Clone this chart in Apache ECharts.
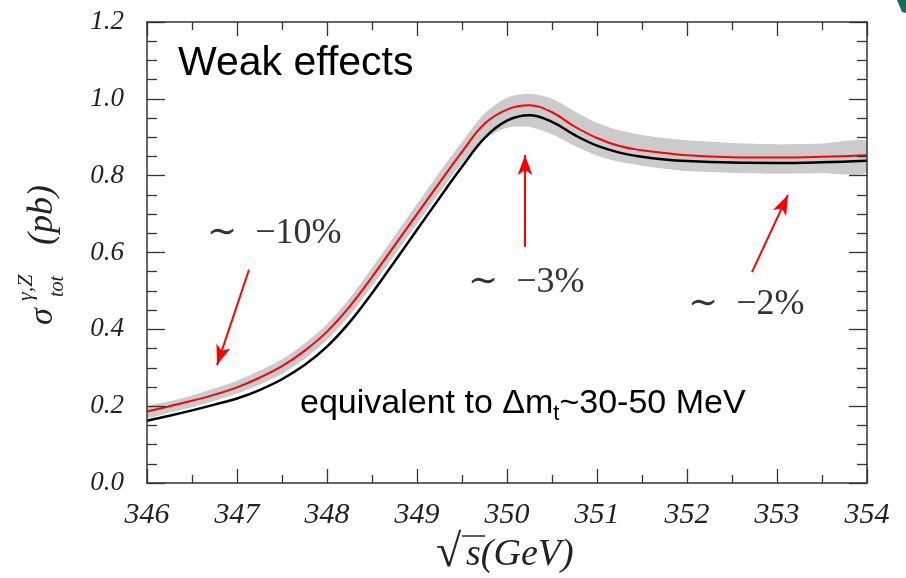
<!DOCTYPE html>
<html><head><meta charset="utf-8">
<script src="https://cdn.jsdelivr.net/npm/echarts@6/dist/echarts.min.js"></script>
<style>html,body{margin:0;padding:0;background:#fff}#c{width:906px;height:578px}</style>
</head><body><div id="c"></div>
<script>
// sqrt(s) in GeV
const energy   = [346, 346.25, 346.5, 346.75, 347, 347.25, 347.5, 347.75, 348, 348.25, 348.5, 348.75, 349, 349.25, 349.5, 349.75, 350, 350.25, 350.5, 350.75, 351, 351.25, 351.5, 351.75, 352, 352.5, 353, 353.5, 354];
// red curve (without weak effects)
const sigmaRed = [0.186, 0.200, 0.214, 0.230, 0.249, 0.274, 0.304, 0.344, 0.394, 0.459, 0.536, 0.618, 0.700, 0.782, 0.862, 0.935, 0.972, 0.983, 0.965, 0.928, 0.898, 0.877, 0.866, 0.859, 0.853, 0.848, 0.847, 0.849, 0.853];
// black curve (with weak effects)
const sigmaBlack = [0.162, 0.175, 0.189, 0.204, 0.220, 0.242, 0.270, 0.307, 0.355, 0.418, 0.494, 0.576, 0.659, 0.742, 0.823, 0.898, 0.943, 0.957, 0.940, 0.906, 0.878, 0.860, 0.849, 0.842, 0.838, 0.834, 0.833, 0.835, 0.839];
// grey uncertainty band
const bandLow  = [0.170, 0.183, 0.197, 0.214, 0.233, 0.256, 0.284, 0.323, 0.372, 0.436, 0.512, 0.593, 0.674, 0.755, 0.832, 0.895, 0.925, 0.927, 0.908, 0.878, 0.852, 0.836, 0.826, 0.818, 0.812, 0.807, 0.805, 0.806, 0.808];
const bandHigh = [0.198, 0.213, 0.228, 0.246, 0.266, 0.292, 0.322, 0.363, 0.414, 0.480, 0.560, 0.643, 0.726, 0.809, 0.888, 0.962, 1.003, 1.013, 1.000, 0.968, 0.938, 0.918, 0.906, 0.898, 0.892, 0.885, 0.882, 0.884, 0.889];
// annotation arrows: [fromX, fromY, toX, toY] in data units
const arrowTen   = [347.133, 0.555, 346.778, 0.307];
const arrowThree = [350.2, 0.615, 350.2, 0.854];
const arrowTwo   = [352.722, 0.549, 353.122, 0.750];

const pairs = (ys) => energy.map((x, i) => [x, ys[i]]);
const arrowPair = (a) => [{coord: [a[0], a[1]]}, {coord: [a[2], a[3]]}];

const serif = "'Liberation Serif', 'DejaVu Serif', serif";
const sans = "'Liberation Sans', Arial, sans-serif";
const axisColor = '#333';

const chart = echarts.init(document.getElementById('c'), null, {renderer: 'canvas'});

const baseX = {
  type: 'value', min: 346, max: 354, interval: 1, z: 10,
  axisLine: {show: true, onZero: false, lineStyle: {color: axisColor, width: 1.5}},
  splitLine: {show: false},
  minorTick: {show: true, splitNumber: 2, length: 8, lineStyle: {color: axisColor, width: 1.3}},
  axisTick: {show: true, inside: true, length: 14, lineStyle: {color: axisColor, width: 1.3}}
};
const baseY = {
  type: 'value', min: 0, max: 1.2, interval: 0.2, z: 10,
  axisLine: {show: true, onZero: false, lineStyle: {color: axisColor, width: 1.5}},
  splitLine: {show: false},
  minorTick: {show: true, splitNumber: 4, length: 10, lineStyle: {color: axisColor, width: 1.3}},
  axisTick: {show: true, inside: true, length: 18, lineStyle: {color: axisColor, width: 1.3}}
};

const mathText = (x, y, text, size) => ({type: 'text', x: x, y: y, z: 100,
  style: {text: text, font: size + 'px ' + serif, fill: '#333', textVerticalAlign: 'middle', verticalAlign: 'middle'}});

const option = {
  animation: false,
  backgroundColor: '#fff',
  grid: {left: 147, right: 39, top: 22, bottom: 95},
  xAxis: [
    Object.assign({}, baseX, {position: 'bottom',
      axisLabel: {show: true, margin: 17, fontFamily: serif, fontStyle: 'italic', fontSize: 30, color: '#222'}}),
    Object.assign({}, baseX, {position: 'top', axisLabel: {show: false}})
  ],
  yAxis: [
    Object.assign({}, baseY, {position: 'left',
      axisLabel: {show: true, margin: 23, fontFamily: serif, fontStyle: 'italic', fontSize: 27, color: '#222',
        formatter: (v) => v.toFixed(1)}}),
    Object.assign({}, baseY, {position: 'right', axisLabel: {show: false}})
  ],
  series: [
    {type: 'custom', name: 'band', data: [0], silent: true, z: 1,
     renderItem: (params, api) => {
       const cs = params.coordSys;
       const top = energy.map((x, i) => api.coord([x, bandHigh[i]]));
       const bot = energy.map((x, i) => api.coord([x, bandLow[i]])).reverse();
       return {type: 'group',
         clipPath: {type: 'rect', shape: {x: cs.x, y: cs.y, width: cs.width, height: cs.height}},
         children: [
           {type: 'polygon', shape: {points: top.concat(bot), smooth: 0.25}, style: {fill: '#cbcbcb'}}
         ]};
     }},
    {type: 'line', name: 'withWeak', data: pairs(sigmaBlack), smooth: 0.4, symbol: 'none', z: 3,
     lineStyle: {color: '#000', width: 2.5}, silent: true},
    {type: 'line', name: 'noWeak', data: pairs(sigmaRed), smooth: 0.4, symbol: 'none', z: 4,
     lineStyle: {color: '#ff0000', width: 2}, silent: true,
     markLine: {
       silent: true, animation: false,
       symbol: ['none', 'arrow'], symbolSize: [11, 20],
       label: {show: false},
       lineStyle: {color: '#ff0000', width: 2, type: 'solid'},
       emphasis: {disabled: true},
       data: [arrowPair(arrowTen), arrowPair(arrowThree), arrowPair(arrowTwo)]
     }}
  ],
  graphic: [
    {type: 'text', x: 178, y: 64, z: 100, style: {text: 'Weak effects', font: '41px ' + sans, fill: '#000', textVerticalAlign: 'middle', verticalAlign: 'middle'}},
    {type: 'text', x: 300, y: 404, z: 100, style: {
      text: '{a|equivalent to Δm}{s|t}{a|~30-50 MeV}', fill: '#000', textVerticalAlign: 'middle', verticalAlign: 'middle',
      rich: {a: {fontSize: 34, fontFamily: sans, color: '#000'}, s: {fontSize: 22, fontFamily: sans, color: '#000', padding: [20, 0, 0, 0]}}}},
    mathText(207, 234, '∼\u2002−10%', 36),
    mathText(468, 283, '∼\u2002−3%', 36),
    mathText(688, 305, '∼\u2002−2%', 36),
    // x-axis title
    {type: 'text', x: 436, y: 554, z: 100, style: {text: '√', font: '46px ' + serif, fill: '#222', textVerticalAlign: 'middle', verticalAlign: 'middle'}},
    {type: 'line', z: 100, shape: {x1: 462, y1: 536, x2: 485, y2: 536}, style: {stroke: '#222', lineWidth: 1.5}},
    {type: 'text', x: 466, y: 555, z: 100, style: {text: 's(GeV)', font: 'italic 38px ' + serif, fill: '#222', textVerticalAlign: 'middle', verticalAlign: 'middle'}},
    // y-axis title (rotated)
    {type: 'group', x: 54, y: 327, rotation: Math.PI / 2, z: 100, children: [
      {type: 'text', x: 2, y: -11, style: {text: 'σ', font: 'italic 34px ' + serif, fill: '#222', textVerticalAlign: 'middle', verticalAlign: 'middle'}},
      {type: 'text', x: 26, y: -28, style: {text: 'γ,Z', font: 'italic 22px ' + serif, fill: '#222', textVerticalAlign: 'middle', verticalAlign: 'middle'}},
      {type: 'text', x: 30, y: 4, style: {text: 'tot', font: 'italic 20px ' + serif, fill: '#222', textVerticalAlign: 'middle', verticalAlign: 'middle'}},
      {type: 'text', x: 82, y: -11, style: {text: '(pb)', font: 'italic 36px ' + serif, fill: '#222', textVerticalAlign: 'middle', verticalAlign: 'middle'}}
    ]},
    // decorative corner
    {type: 'polygon', shape: {points: [[897, 0], [906, 0], [906, 13], [902, 12]]}, style: {fill: '#1d6a55'}}
  ]
};
chart.setOption(option);
</script>
</body></html>
